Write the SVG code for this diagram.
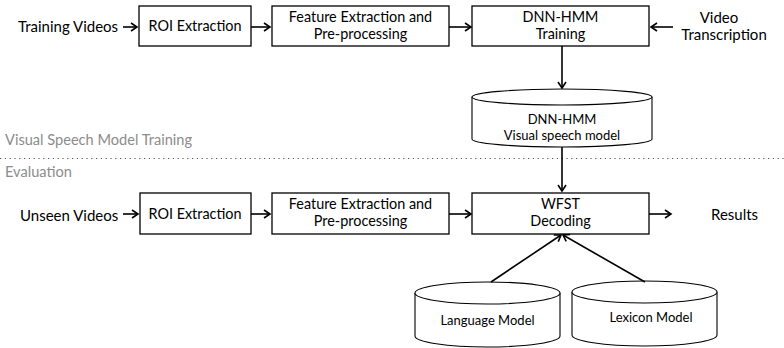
<svg xmlns="http://www.w3.org/2000/svg" width="784" height="348" viewBox="0 0 784 348">
<defs>
<marker id="ah" markerWidth="10" markerHeight="10" refX="8" refY="5" orient="auto" markerUnits="userSpaceOnUse">
<path d="M2,1 L8,5 L2,9" fill="none" stroke="#000" stroke-width="1.6"/>
</marker>
<style>
.box{fill:#fff;stroke:#000;stroke-width:1.3}
.cyl{fill:#fff;stroke:#000;stroke-width:1.1}
text{font-family:Lato,"Open Sans","Liberation Sans",sans-serif;fill:#000}
.t{font-size:15px}
.b{font-size:14.4px;text-anchor:middle}
.c{font-size:13px;text-anchor:middle}
.g{font-size:14.6px;fill:#8c8c8c}
.e{stroke:#000;stroke-width:1.6;fill:none;marker-end:url(#ah)}
</style>
</defs>
<rect width="784" height="348" fill="#fff"/>
<g id="labels">
<text class="t" x="18" y="32">Training Videos</text>
<text class="t" x="719" y="23" text-anchor="middle">Video</text>
<text class="t" x="724" y="40" text-anchor="middle">Transcription</text>
<text class="t" x="20" y="221">Unseen Videos</text>
<text class="t" x="711" y="220">Results</text>
<text class="g" x="5" y="145">Visual Speech Model Training</text>
<text class="g" x="5" y="177">Evaluation</text>
</g>
<line x1="0" y1="158.5" x2="784" y2="158.5" stroke="#555" stroke-width="1.2" stroke-dasharray="1.2,3.6"/>
<g id="roi1"><rect class="box" x="139" y="6" width="112" height="40"/><text class="b" x="195" y="31">ROI Extraction</text></g>
<g id="feat1"><rect class="box" x="272" y="6" width="177" height="40"/><text class="b" x="360.5" y="22">Feature Extraction and</text><text class="b" x="360.5" y="39">Pre-processing</text></g>
<g id="dnn"><rect class="box" x="472" y="6" width="177" height="40"/><text class="b" x="560.5" y="22">DNN-HMM</text><text class="b" x="560.5" y="39">Training</text></g>
<g id="vsm"><path class="cyl" d="M472,97 A90,8 0 0 1 652,97 L652,139 A90,8 0 0 1 472,139 Z"/><path class="cyl" d="M472,97 A90,8 0 0 0 652,97"/><text class="c" x="562" y="123.5">DNN-HMM</text><text class="c" x="562" y="139.5">Visual speech model</text></g>
<g id="roi2"><rect class="box" x="140" y="193" width="111" height="41"/><text class="b" x="195" y="219">ROI Extraction</text></g>
<g id="feat2"><rect class="box" x="272" y="193" width="177" height="41"/><text class="b" x="360.5" y="209">Feature Extraction and</text><text class="b" x="360.5" y="226">Pre-processing</text></g>
<g id="wfst"><rect class="box" x="472" y="193" width="177" height="41"/><text class="b" x="560.5" y="209">WFST</text><text class="b" x="560.5" y="226">Decoding</text></g>
<g id="lm"><path class="cyl" d="M415,293 A72.5,11 0 0 1 560,293 L560,336 A72.5,11 0 0 1 415,336 Z"/><path class="cyl" d="M415,293 A72.5,11 0 0 0 560,293"/><text class="c" x="487.5" y="325">Language Model</text></g>
<g id="lex"><path class="cyl" d="M572,292 A72.5,11 0 0 1 717,292 L717,335 A72.5,11 0 0 1 572,335 Z"/><path class="cyl" d="M572,292 A72.5,11 0 0 0 717,292"/><text class="c" x="651" y="322">Lexicon Model</text></g>
<g id="connectors">
<line class="e" x1="123" y1="27" x2="137" y2="27"/>
<line class="e" x1="251" y1="27" x2="270" y2="27"/>
<line class="e" x1="449" y1="27" x2="471" y2="27"/>
<line class="e" x1="673" y1="27" x2="651" y2="27"/>
<line class="e" x1="562" y1="46" x2="562" y2="88"/>
<line class="e" x1="562" y1="147" x2="562" y2="191"/>
<line class="e" x1="123" y1="214" x2="138" y2="214"/>
<line class="e" x1="251" y1="214" x2="270" y2="214"/>
<line class="e" x1="449" y1="214" x2="471" y2="214"/>
<line class="e" x1="649" y1="214" x2="671" y2="214"/>
<line class="e" x1="491" y1="282" x2="561" y2="235"/>
<line class="e" x1="645" y1="282" x2="563" y2="235"/>
</g>
</svg>
